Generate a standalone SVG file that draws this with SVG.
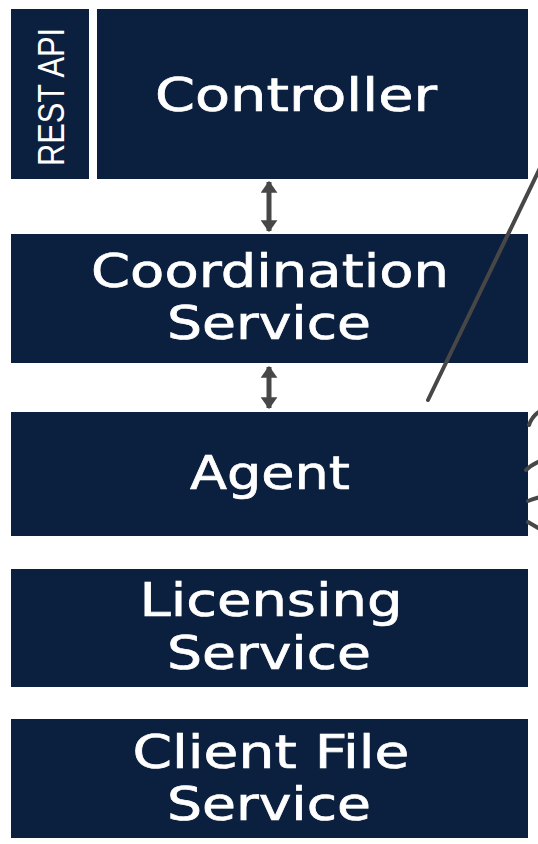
<svg xmlns="http://www.w3.org/2000/svg" width="538" height="844" viewBox="0 0 538 844">
<style>
.box{fill:#0b1f3e;}
.lbl{fill:#ffffff;stroke:#ffffff;stroke-width:0.7;font-family:"DejaVu Sans","Liberation Sans",sans-serif;font-size:46px;text-anchor:middle;}
.rest{fill:#ffffff;font-family:"Liberation Sans",sans-serif;font-size:36px;text-anchor:middle;}
.conn{stroke:#474747;stroke-width:4;fill:none;stroke-linecap:round;}
.dbl{stroke:#474747;stroke-width:5;fill:none;marker-start:url(#ah);marker-end:url(#ah);}
</style>
<defs>
<marker id="ah" viewBox="0 0 10 14" refX="9" refY="7" markerWidth="2.4" markerHeight="3.4" orient="auto-start-reverse" markerUnits="strokeWidth">
<path d="M0,0 L10,7 L0,14 z" fill="#474747"/>
</marker>
</defs>
<rect width="538" height="844" fill="#ffffff"/>
<g id="rest-api">
<rect class="box" x="11" y="9" width="78" height="170"/>
<text class="rest" transform="translate(51,97) rotate(-90)" dy="13" textLength="138" lengthAdjust="spacingAndGlyphs">REST API</text>
</g>
<g id="controller">
<rect class="box" x="97" y="9" width="431" height="170"/>
<text class="lbl" x="296" y="111" textLength="282" lengthAdjust="spacingAndGlyphs">Controller</text>
</g>
<g id="coordination">
<rect class="box" x="11" y="234" width="517" height="129"/>
<text class="lbl" x="270" y="287" textLength="358" lengthAdjust="spacingAndGlyphs">Coordination</text>
<text class="lbl" x="269" y="339" textLength="204" lengthAdjust="spacingAndGlyphs">Service</text>
</g>
<g id="agent">
<rect class="box" x="11" y="412" width="517" height="124"/>
<text class="lbl" x="270" y="489" textLength="160" lengthAdjust="spacingAndGlyphs">Agent</text>
</g>
<g id="licensing">
<rect class="box" x="11" y="569" width="517" height="118"/>
<text class="lbl" x="271" y="616" textLength="263" lengthAdjust="spacingAndGlyphs">Licensing</text>
<text class="lbl" x="269" y="669" textLength="204" lengthAdjust="spacingAndGlyphs">Service</text>
</g>
<g id="client-file">
<rect class="box" x="11" y="719" width="517" height="119"/>
<text class="lbl" x="271" y="768" textLength="277" lengthAdjust="spacingAndGlyphs">Client File</text>
<text class="lbl" x="269" y="820" textLength="204" lengthAdjust="spacingAndGlyphs">Service</text>
</g>
<g id="connectors">
<line class="dbl" x1="269" y1="182" x2="269" y2="231"/>
<line class="dbl" x1="269" y1="367" x2="269" y2="408"/>
<line class="conn" x1="428" y1="400" x2="540" y2="168"/>
<path class="conn" d="M529,425 Q532,416 540,411"/>
<path class="conn" d="M526,470 Q531,465 540,461"/>
<path class="conn" d="M528,501 Q533,499 540,497"/>
<path class="conn" d="M528,522 Q533,525 540,529"/>
</g>
</svg>
